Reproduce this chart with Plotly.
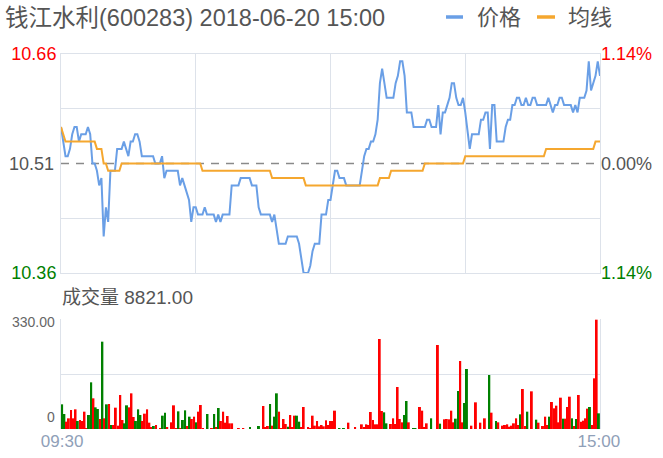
import plotly.graph_objects as go

# ---------------- data ----------------
title_text = "钱江水利(600283) 2018-06-20 15:00"
prev_close = 10.51
price_ticks = [10.36, 10.51, 10.66]
price_tick_text = ["10.36", "10.51", "10.66"]
pct_tick_text = ["1.14%", "0.00%", "1.14%"]
volume_total_text = "成交量 8821.00"
volume_ticks = [0, 330]
volume_tick_text = ["0", "330.00"]
time_labels = ["09:30", "15:00"]

price = [
    10.56, 10.54, 10.52, 10.52, 10.53, 10.55, 10.56, 10.56, 10.54, 10.55,
    10.55, 10.55, 10.56, 10.55, 10.51, 10.51, 10.50, 10.48, 10.49, 10.41,
    10.45, 10.43, 10.50, 10.50, 10.50, 10.53, 10.53, 10.53, 10.54, 10.53,
    10.52, 10.54, 10.54, 10.55, 10.55, 10.54, 10.52, 10.52, 10.52, 10.52,
    10.52, 10.52, 10.51, 10.51, 10.51, 10.52, 10.49, 10.50, 10.50, 10.50,
    10.50, 10.50, 10.50, 10.48, 10.49, 10.48, 10.47, 10.46, 10.43, 10.45,
    10.45, 10.44, 10.44, 10.44, 10.45, 10.44, 10.44, 10.44, 10.44, 10.43,
    10.44, 10.43, 10.44, 10.44, 10.44, 10.44, 10.48, 10.48, 10.48, 10.48,
    10.49, 10.49, 10.49, 10.49, 10.49, 10.48, 10.48, 10.48, 10.45, 10.44,
    10.44, 10.44, 10.44, 10.44, 10.43, 10.44, 10.42, 10.40, 10.40, 10.40,
    10.40, 10.41, 10.41, 10.41, 10.41, 10.41, 10.40, 10.38, 10.36, 10.36,
    10.36, 10.37, 10.39, 10.40, 10.40, 10.40, 10.44, 10.44, 10.44, 10.46,
    10.46, 10.48, 10.50, 10.50, 10.49, 10.49, 10.49, 10.48, 10.48, 10.48,
    10.48, 10.48, 10.48, 10.48, 10.50, 10.52, 10.53, 10.53, 10.54, 10.54,
    10.55, 10.57, 10.62, 10.64, 10.62, 10.60, 10.60, 10.60, 10.60, 10.62,
    10.63, 10.65, 10.65, 10.63, 10.58, 10.58, 10.58, 10.56, 10.56, 10.56,
    10.56, 10.56, 10.56, 10.57, 10.57, 10.56, 10.56, 10.56, 10.59, 10.55,
    10.58, 10.58, 10.59, 10.60, 10.62, 10.62, 10.60, 10.59, 10.59, 10.60,
    10.58, 10.55, 10.53, 10.55, 10.55, 10.55, 10.55, 10.57, 10.57, 10.58,
    10.58, 10.53, 10.59, 10.59, 10.54, 10.54, 10.54, 10.54, 10.56, 10.57,
    10.57, 10.59, 10.59, 10.60, 10.60, 10.59, 10.59, 10.60, 10.59, 10.59,
    10.60, 10.60, 10.59, 10.59, 10.59, 10.59, 10.59, 10.60, 10.59, 10.58,
    10.59, 10.59, 10.60, 10.60, 10.59, 10.59, 10.59, 10.59, 10.58, 10.59,
    10.58, 10.60, 10.60, 10.60, 10.61, 10.65, 10.61, 10.62, 10.63, 10.65,
    10.63,
]

avg_price = [
    10.56, 10.55, 10.54, 10.54, 10.54, 10.54, 10.54, 10.54, 10.54, 10.54,
    10.54, 10.54, 10.54, 10.54, 10.54, 10.54, 10.53, 10.53, 10.53, 10.51,
    10.51, 10.50, 10.50, 10.50, 10.50, 10.50, 10.50, 10.51, 10.51, 10.51,
    10.51, 10.51, 10.51, 10.51, 10.51, 10.51, 10.51, 10.51, 10.51, 10.51,
    10.51, 10.51, 10.51, 10.51, 10.51, 10.51, 10.51, 10.51, 10.51, 10.51,
    10.51, 10.51, 10.51, 10.51, 10.51, 10.51, 10.51, 10.51, 10.51, 10.51,
    10.51, 10.51, 10.51, 10.50, 10.50, 10.50, 10.50, 10.50, 10.50, 10.50,
    10.50, 10.50, 10.50, 10.50, 10.50, 10.50, 10.50, 10.50, 10.50, 10.50,
    10.50, 10.50, 10.50, 10.50, 10.50, 10.50, 10.50, 10.50, 10.50, 10.50,
    10.50, 10.50, 10.50, 10.50, 10.49, 10.49, 10.49, 10.49, 10.49, 10.49,
    10.49, 10.49, 10.49, 10.49, 10.49, 10.49, 10.49, 10.49, 10.49, 10.48,
    10.48, 10.48, 10.48, 10.48, 10.48, 10.48, 10.48, 10.48, 10.48, 10.48,
    10.48, 10.48, 10.48, 10.48, 10.48, 10.48, 10.48, 10.48, 10.48, 10.48,
    10.48, 10.48, 10.48, 10.48, 10.48, 10.48, 10.48, 10.48, 10.48, 10.48,
    10.48, 10.48, 10.49, 10.49, 10.49, 10.49, 10.49, 10.50, 10.50, 10.50,
    10.50, 10.50, 10.50, 10.50, 10.50, 10.50, 10.50, 10.50, 10.50, 10.50,
    10.50, 10.50, 10.51, 10.51, 10.51, 10.51, 10.51, 10.51, 10.51, 10.51,
    10.51, 10.51, 10.51, 10.51, 10.51, 10.51, 10.51, 10.51, 10.51, 10.51,
    10.52, 10.52, 10.52, 10.52, 10.52, 10.52, 10.52, 10.52, 10.52, 10.52,
    10.52, 10.52, 10.52, 10.52, 10.52, 10.52, 10.52, 10.52, 10.52, 10.52,
    10.52, 10.52, 10.52, 10.52, 10.52, 10.52, 10.52, 10.52, 10.52, 10.52,
    10.52, 10.52, 10.52, 10.52, 10.52, 10.52, 10.53, 10.53, 10.53, 10.53,
    10.53, 10.53, 10.53, 10.53, 10.53, 10.53, 10.53, 10.53, 10.53, 10.53,
    10.53, 10.53, 10.53, 10.53, 10.53, 10.53, 10.53, 10.53, 10.54, 10.54,
    10.54,
]

volume = [
    74, 45, 22, 32, 57, 32, 59, 24, 27, 24,
    52, 2, 42, 140, 92, 65, 60, 30, 262, 32,
    74, 75, 12, 12, 64, 10, 102, 27, 17, 71,
    65, 107, 36, 24, 59, 42, 24, 46, 59, 19,
    6, 9, 12, 0, 3, 40, 49, 5, 0, 20,
    71, 2, 53, 2, 27, 56, 9, 37, 30, 37,
    20, 52, 72, 2, 0, 45, 0, 2, 45, 4,
    63, 24, 52, 19, 39, 17, 17, 0, 0, 2,
    0, 3, 0, 0, 5, 0, 0, 0, 9, 0,
    69, 5, 9, 75, 10, 37, 107, 52, 2, 30,
    15, 7, 42, 5, 40, 40, 22, 5, 66, 0,
    5, 3, 40, 10, 24, 8, 12, 8, 26, 12,
    24, 24, 55, 0, 2, 0, 2, 0, 19, 0,
    0, 5, 0, 0, 14, 5, 14, 12, 51, 27,
    14, 14, 270, 54, 50, 17, 0, 15, 32, 15,
    126, 30, 20, 42, 84, 20, 0, 2, 1, 0,
    66, 55, 5, 17, 0, 32, 0, 0, 252, 16,
    0, 29, 30, 29, 55, 20, 31, 114, 204, 20,
    78, 180, 0, 10, 0, 80, 0, 19, 0, 32,
    0, 162, 49, 0, 24, 20, 0, 10, 12, 14,
    7, 10, 17, 32, 12, 44, 120, 9, 52, 0,
    113, 0, 28, 19, 0, 9, 37, 12, 37, 81,
    62, 70, 20, 94, 31, 31, 66, 97, 32, 9,
    30, 102, 22, 25, 32, 61, 66, 12, 152, 328,
    47,
]

# 1 = up (red), 0 = down (green)
volume_up = [
    0, 0, 1, 1, 1, 1, 1, 0, 1, 1,
    1, 1, 0, 0, 1, 0, 0, 1, 0, 1,
    0, 1, 0, 1, 1, 1, 1, 1, 0, 0,
    1, 1, 1, 0, 0, 0, 1, 1, 1, 1,
    1, 0, 1, 1, 1, 0, 0, 1, 1, 1,
    1, 1, 0, 1, 0, 0, 1, 0, 1, 1,
    0, 1, 1, 1, 1, 0, 1, 1, 0, 1,
    0, 1, 1, 1, 1, 1, 1, 1, 1, 1,
    1, 1, 1, 1, 0, 1, 1, 1, 0, 1,
    1, 1, 1, 0, 1, 0, 0, 1, 1, 1,
    1, 0, 1, 1, 1, 0, 0, 1, 1, 1,
    1, 1, 1, 1, 1, 1, 1, 1, 1, 1,
    1, 1, 1, 1, 0, 1, 0, 1, 1, 1,
    1, 1, 1, 1, 1, 1, 1, 1, 1, 1,
    1, 1, 1, 1, 0, 0, 1, 1, 1, 1,
    1, 1, 1, 0, 0, 1, 1, 0, 0, 1,
    1, 1, 1, 1, 1, 0, 1, 1, 1, 0,
    1, 1, 1, 1, 1, 1, 0, 0, 1, 1,
    0, 0, 1, 1, 1, 1, 1, 1, 1, 1,
    1, 0, 1, 1, 0, 1, 1, 1, 1, 1,
    1, 1, 1, 1, 1, 0, 1, 1, 0, 1,
    1, 1, 0, 1, 1, 1, 1, 1, 0, 1,
    1, 1, 1, 1, 0, 1, 1, 1, 0, 1,
    0, 1, 1, 1, 1, 1, 0, 1, 1, 1,
    0,
]

minutes = list(range(len(price)))

# ---------------- style ----------------
W, H = 663, 458
BLUE = "#6a9fe6"
ORANGE = "#f5a72f"
RED = "#ff0000"
GREEN = "#008000"
GRID = "#dde2ea"
TXT = "#555555"
FONT = "Liberation Sans, Arial, Noto Sans CJK SC, sans-serif"


def px_x(p):
    return p / W


def px_y(p):
    return (H - p) / H


x_dom = [px_x(61), px_x(600)]
price_dom = [px_y(273), px_y(54)]
vol_dom = [px_y(429), px_y(319)]

fig = go.Figure()
# pre-close reference (dashed), drawn first so the average line covers it
fig.add_trace(go.Scatter(x=[minutes[0], minutes[-1]], y=[prev_close, prev_close], mode="lines",
                         line=dict(color="#8a8a8a", width=1.5, dash="8px,7px"),
                         xaxis="x", yaxis="y", hoverinfo="skip"))
fig.add_trace(go.Scatter(x=minutes, y=price, mode="lines", name="价格",
                         line=dict(color=BLUE, width=2), xaxis="x", yaxis="y",
                         hoverinfo="skip"))
fig.add_trace(go.Scatter(x=minutes, y=avg_price, mode="lines", name="均线",
                         line=dict(color=ORANGE, width=2), xaxis="x", yaxis="y",
                         hoverinfo="skip"))
fig.add_trace(go.Bar(x=minutes, y=volume,
                     marker=dict(color=[RED if u else GREEN for u in volume_up], line_width=0),
                     xaxis="x2", yaxis="y3", hoverinfo="skip"))
# invisible trace carrying the right-hand percentage axis
fig.add_trace(go.Scatter(x=[minutes[0], minutes[-1]], y=[prev_close, prev_close], mode="lines",
                         line=dict(width=0, color="rgba(0,0,0,0)"),
                         xaxis="x", yaxis="y2", hoverinfo="skip"))

prange = [price_ticks[0], price_ticks[-1]]
lab_colors = [GREEN, TXT, RED]
left_text = [f'<span style="color:{c}">{t}</span>' for c, t in zip(lab_colors, price_tick_text)]
right_text = [f'<span style="color:{c}">{t}</span>' for c, t in zip(lab_colors, pct_tick_text)]
# gridlines half-way between the labelled levels (the pre-close level gets the dashed line)
grid_vals = [price_ticks[0], (price_ticks[0] + price_ticks[1]) / 2,
             (price_ticks[1] + price_ticks[2]) / 2, price_ticks[2]]

fig.update_layout(
    width=W, height=H, margin=dict(l=0, r=0, t=0, b=0, autoexpand=False),
    paper_bgcolor="white", plot_bgcolor="white", showlegend=False,
    font=dict(family=FONT, color=TXT),
    bargap=0.12,
    xaxis=dict(domain=x_dom, range=[minutes[0], minutes[-1]], tickvals=[0, 60, 120, 180, 240],
               showticklabels=False, showgrid=True, gridcolor=GRID, zeroline=False,
               showline=True, mirror=True, linecolor=GRID, ticks="", anchor="y",
               automargin=False),
    yaxis=dict(domain=price_dom, range=prange, tickvals=grid_vals,
               ticktext=[left_text[0], "", "", left_text[2]],
               showgrid=True, gridcolor=GRID, zeroline=False, showline=True, mirror=True,
               linecolor=GRID, ticks="", tickfont=dict(size=18), anchor="x",
               automargin=False),
    yaxis2=dict(overlaying="y", side="right", range=prange,
                tickvals=[price_ticks[0], price_ticks[1], price_ticks[2]],
                ticktext=right_text, showgrid=False, zeroline=False, ticks="",
                tickfont=dict(size=18), anchor="x", automargin=False),
    xaxis2=dict(domain=x_dom, range=[-0.5, len(price) - 0.5], tickvals=[minutes[0], minutes[-1]],
                ticktext=time_labels, showgrid=False, zeroline=False, showline=False,
                ticks="", tickfont=dict(size=17, color="#8fa0b8"), anchor="y3",
                automargin=False),
    yaxis3=dict(domain=vol_dom, range=[0, 330], tickvals=[165, 330], showticklabels=False,
                showgrid=True, gridcolor=GRID, zeroline=False, showline=True, mirror=True,
                linecolor=GRID, ticks="", anchor="x2", automargin=False),
)

ann = []
ann.append(dict(text=title_text, xref="paper", yref="paper", x=px_x(3), y=px_y(18),
                xanchor="left", yanchor="middle", showarrow=False,
                font=dict(size=23.5, color=TXT)))
ann.append(dict(text="价格", xref="paper", yref="paper", x=px_x(475), y=px_y(18),
                xanchor="left", yanchor="middle", showarrow=False, font=dict(size=22, color=TXT)))
ann.append(dict(text="均线", xref="paper", yref="paper", x=px_x(566), y=px_y(18),
                xanchor="left", yanchor="middle", showarrow=False, font=dict(size=22, color=TXT)))
ann.append(dict(text=volume_total_text, xref="paper", yref="paper", x=px_x(60), y=px_y(297),
                xanchor="left", yanchor="middle", showarrow=False, font=dict(size=19, color=TXT)))
# middle price label (pre-close) on the left axis
ann.append(dict(text=left_text[1], xref="paper", yref="y", x=px_x(56), y=price_ticks[1],
                xanchor="right", yanchor="middle", showarrow=False, font=dict(size=18)))
ann.append(dict(text=volume_tick_text[1], xref="paper", yref="y3", x=px_x(57), y=volume_ticks[1],
                yshift=-3, xanchor="right", yanchor="middle", showarrow=False,
                font=dict(size=14, color="#666666")))
ann.append(dict(text=volume_tick_text[0], xref="paper", yref="y3", x=px_x(57), y=volume_ticks[0],
                yshift=12, xanchor="right", yanchor="middle", showarrow=False,
                font=dict(size=14, color="#666666")))
fig.update_layout(annotations=ann)

for x0, x1, col in [(446, 463, BLUE), (537, 555, ORANGE)]:
    fig.add_shape(type="line", xref="paper", yref="paper", x0=px_x(x0), x1=px_x(x1),
                  y0=px_y(17), y1=px_y(17), line=dict(color=col, width=3.5))

fig.write_html("out.html", config={"displayModeBar": False},
               post_script="document.body.style.margin='0';document.body.style.overflow='hidden';")
